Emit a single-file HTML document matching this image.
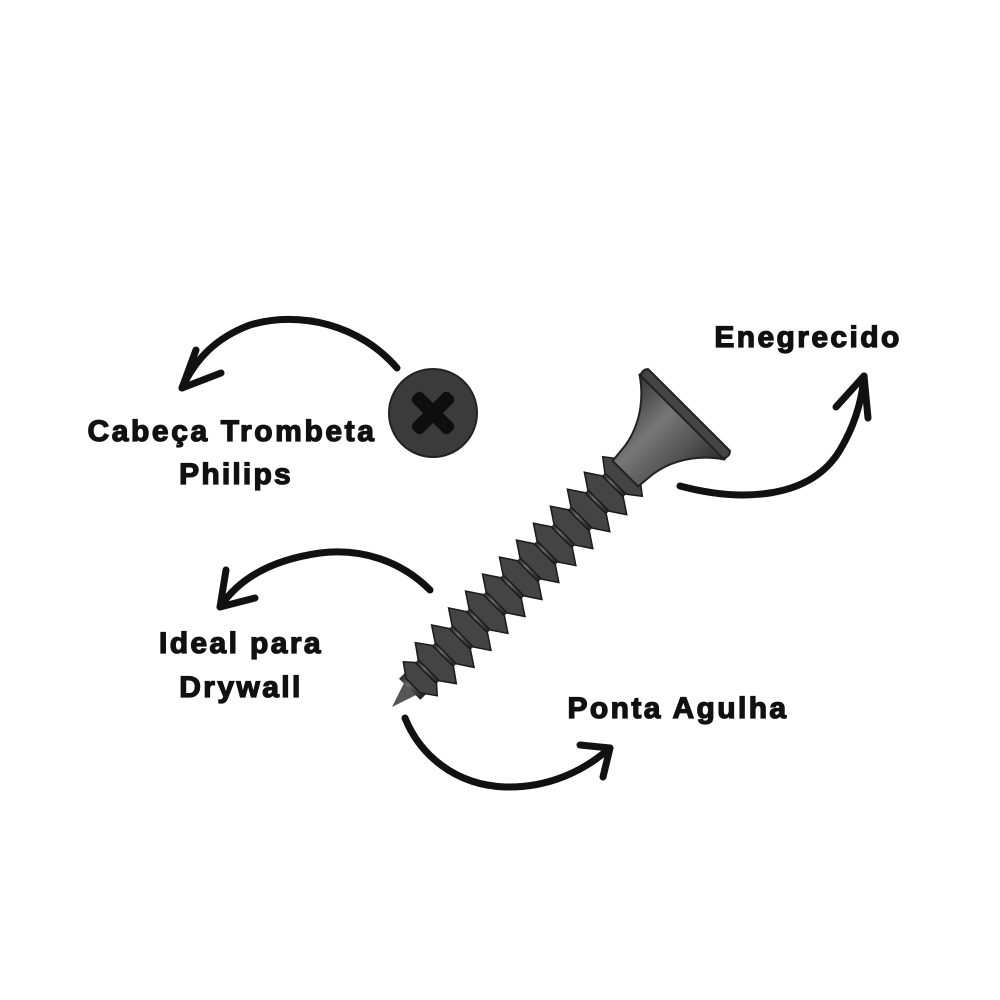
<!DOCTYPE html>
<html><head><meta charset="utf-8"><style>
html,body{margin:0;padding:0;background:#fff;}
svg{display:block}
text{font-family:"Liberation Sans",sans-serif;font-weight:bold;fill:#111;stroke:#111;stroke-width:1.3px;font-size:30px;text-anchor:middle;letter-spacing:1.4px}
</style></head><body>
<svg width="1000" height="1000" viewBox="0 0 1000 1000" xmlns="http://www.w3.org/2000/svg">
<defs>
<linearGradient id="sh" x1="0" y1="0" x2="0" y2="1">
<stop offset="0" stop-color="#2a2a2a"/><stop offset="0.35" stop-color="#6a6a6a"/><stop offset="0.6" stop-color="#4a4a4a"/><stop offset="1" stop-color="#222"/>
</linearGradient>
<linearGradient id="hd" x1="0" y1="0" x2="0" y2="1">
<stop offset="0" stop-color="#333"/><stop offset="0.4" stop-color="#777"/><stop offset="0.7" stop-color="#555"/><stop offset="1" stop-color="#2a2a2a"/>
</linearGradient>
</defs>
<g fill="none" stroke="#111" stroke-width="7" stroke-linecap="round" stroke-linejoin="round">
<path d="M397 368 C360 325 300 310 250 325 C215 338 195 360 182 388"/>
<path d="M196 350 L182 388 L221 373"/>
<path d="M680 486 C740 502 810 500 840 450 C855 425 862 400 864 376"/>
<path d="M836 407 L864 376 L868 418"/>
<path d="M430 590 C400 560 360 548 320 553 C270 560 238 580 220 607"/>
<path d="M226 570 L220 607 L255 598"/>
<path d="M405 718 C420 755 455 785 505 787 C550 788 585 770 610 748"/>
<path d="M580 745 L610 748 L603 777"/>
</g>
<circle cx="433" cy="413" r="44" fill="#3b3b3b" stroke="#222" stroke-width="2"/>
<g transform="translate(433,413) rotate(45)" fill="#0e0e0e">
<rect x="-26" y="-7" width="52" height="14" rx="5"/>
<rect x="-7" y="-26" width="14" height="52" rx="5"/>
</g>
<g transform="translate(392,707) rotate(-45)">
<path d="M0 0 L30 -10 L30 10 Z" fill="#555"/>
<rect x="25" y="-15" width="330" height="30" fill="url(#sh)"/>
<g fill="#444" stroke="#1a1a1a" stroke-width="1.5">
<path d="M30 -10 L40 -24 L48 -15 L48 15 L40 24 L30 10Z"/>
<path d="M52 -15 L62 -29 L72 -15 L72 15 L62 29 L52 15Z"/>
<path d="M76 -15 L86 -30 L96 -15 L96 15 L86 30 L76 15Z"/>
<path d="M100 -15 L110 -30 L120 -15 L120 15 L110 30 L100 15Z"/>
<path d="M124 -15 L134 -30 L144 -15 L144 15 L134 30 L124 15Z"/>
<path d="M148 -15 L158 -30 L168 -15 L168 15 L158 30 L148 15Z"/>
<path d="M172 -15 L182 -30 L192 -15 L192 15 L182 30 L172 15Z"/>
<path d="M196 -15 L206 -30 L216 -15 L216 15 L206 30 L196 15Z"/>
<path d="M220 -15 L230 -30 L240 -15 L240 15 L230 30 L220 15Z"/>
<path d="M244 -15 L254 -30 L264 -15 L264 15 L254 30 L244 15Z"/>
<path d="M268 -15 L278 -30 L288 -15 L288 15 L278 30 L268 15Z"/>
<path d="M292 -15 L302 -30 L312 -15 L312 15 L302 30 L292 15Z"/>
<path d="M316 -15 L326 -28 L336 -15 L336 15 L326 28 L316 15Z"/>
</g>
<path d="M330 -18 L350 -20 C380 -25 400 -45 410 -60 L420 -58 L420 58 L410 60 C400 45 380 25 350 20 L330 18Z" fill="url(#hd)" stroke="#222" stroke-width="2"/>
<rect x="410" y="-60" width="10" height="120" rx="4" fill="#444" stroke="#222" stroke-width="2"/>
</g>
<text x="232" y="441" style="letter-spacing:2.6px">Cabeça Trombeta</text>
<text x="236" y="484" style="letter-spacing:2.2px">Philips</text>
<text x="808" y="347" style="letter-spacing:2.4px">Enegrecido</text>
<text x="241" y="653" style="letter-spacing:2.4px">Ideal para</text>
<text x="241" y="697" style="letter-spacing:2.4px">Drywall</text>
<text x="678" y="718" style="letter-spacing:2.4px">Ponta Agulha</text>
</svg>
</body></html>
